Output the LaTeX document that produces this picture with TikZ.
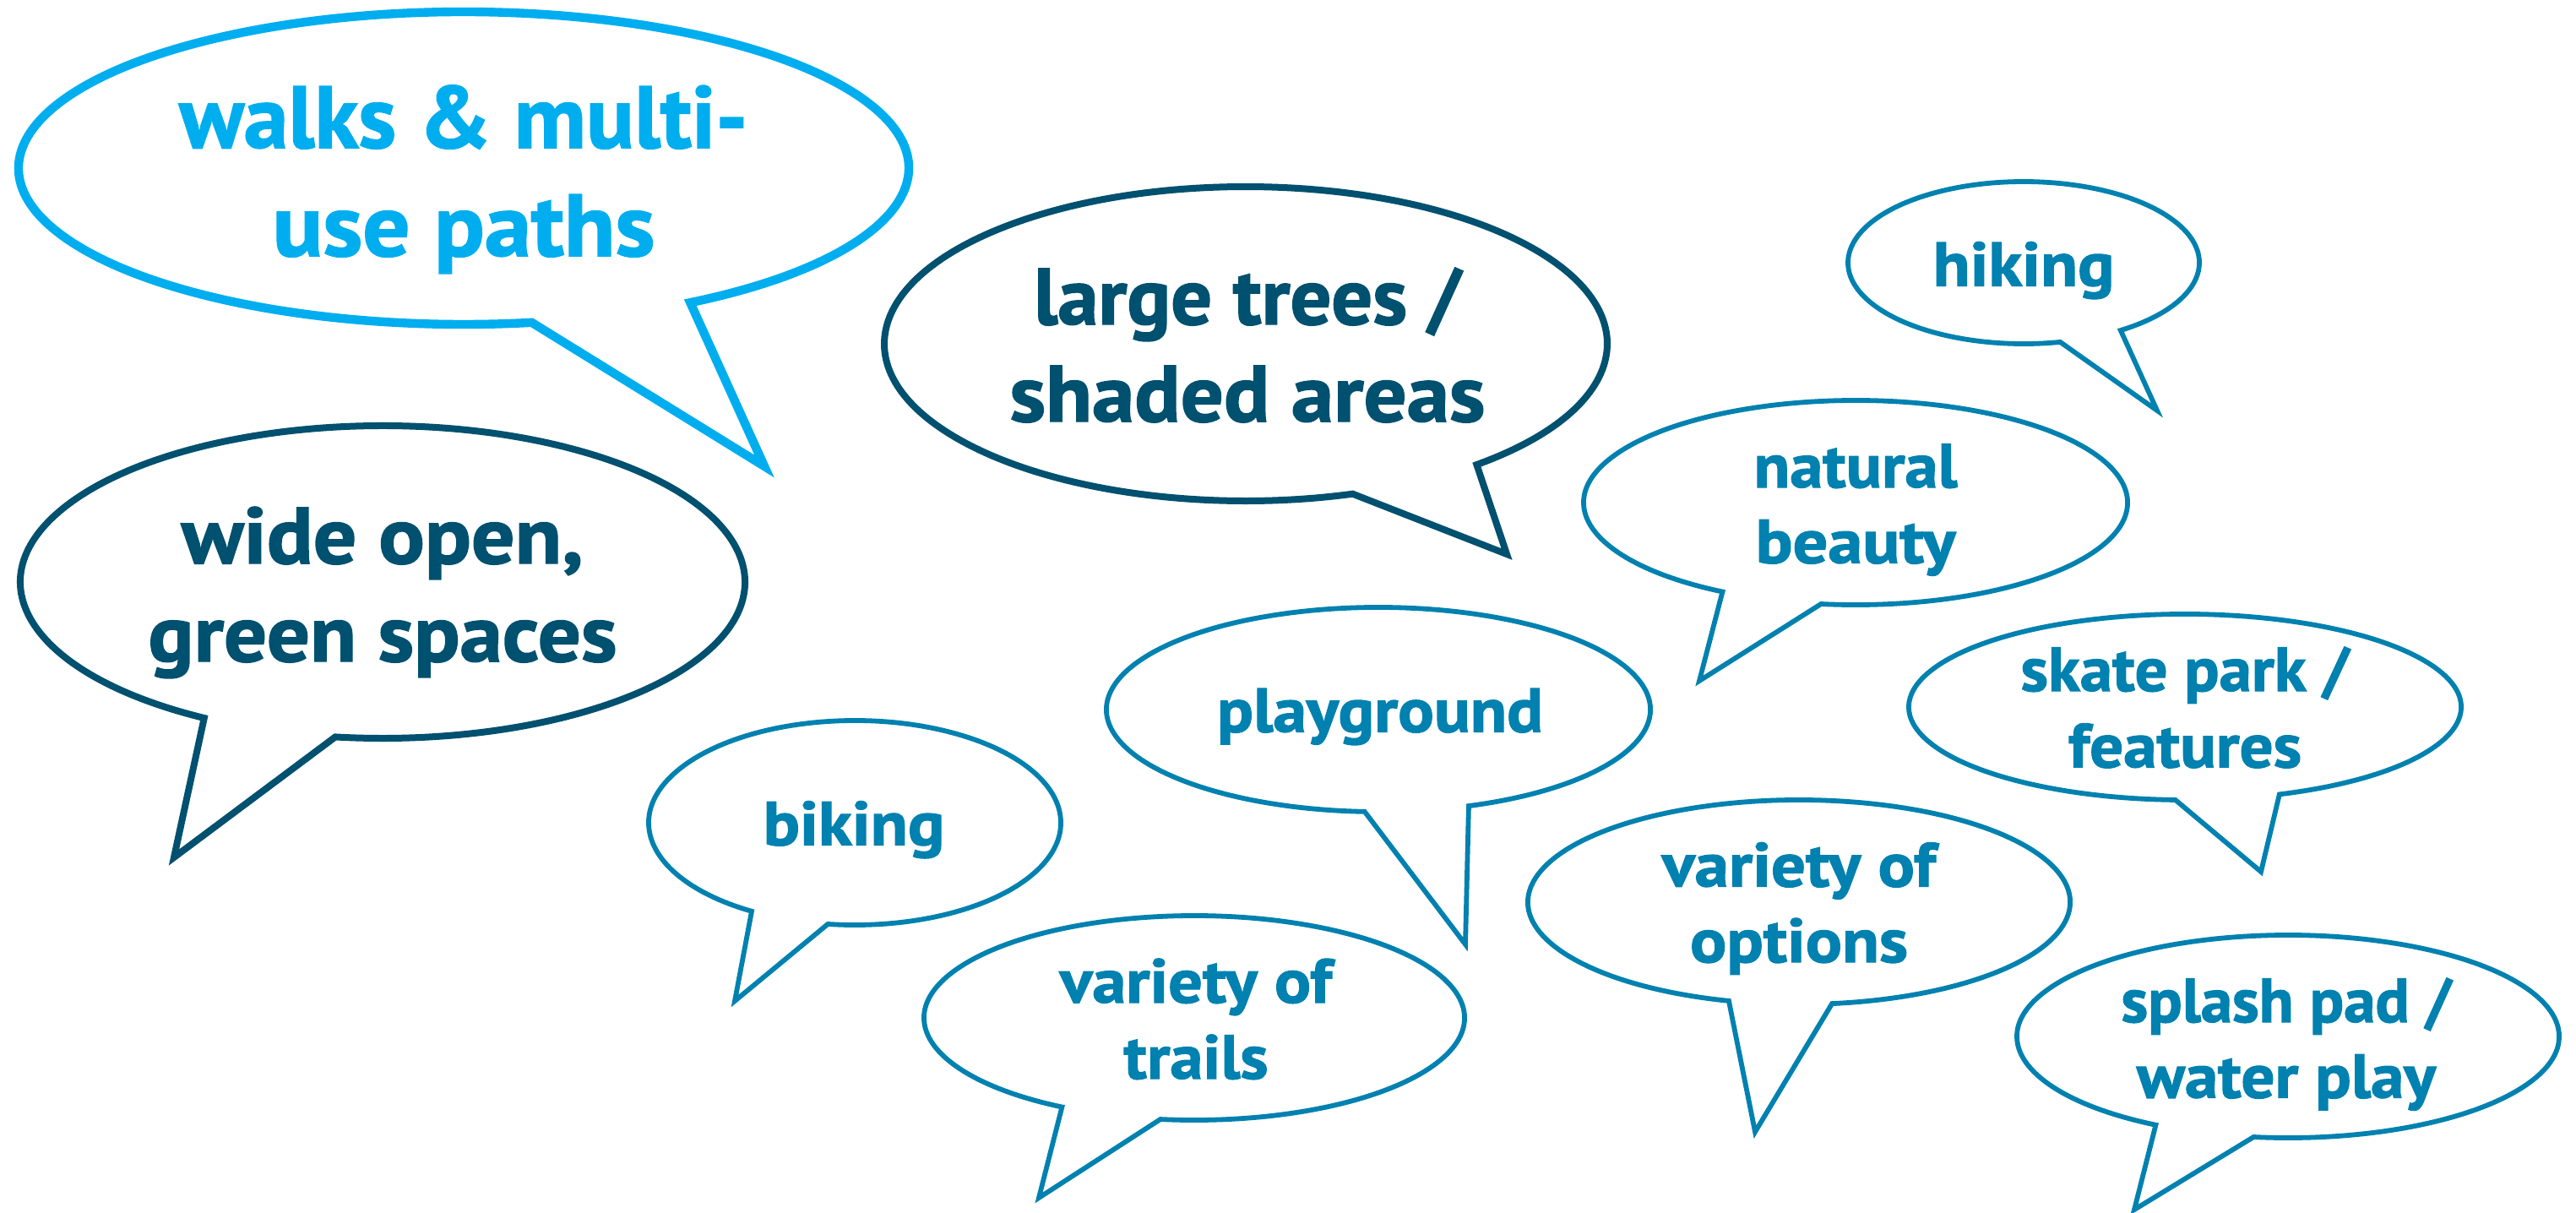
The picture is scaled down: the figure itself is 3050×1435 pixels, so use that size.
\documentclass[tikz,border=0pt]{standalone}
\usepackage{fontspec}
\usepackage{graphicx}
\setmainfont{PT Sans}[BoldFeatures={FakeBold=1.5}]
\definecolor{lightblue}{RGB}{0,174,239}
\definecolor{darkteal}{RGB}{0,80,111}
\definecolor{midblue}{RGB}{0,129,175}
\newcommand{\speechbubble}[7]{%
  \draw[#1] (#7) -- ([shift={(#5:#3 and #4)}]#2) arc[start angle=#5, end angle=#6, x radius=#3, y radius=#4] -- cycle;}
% set a line of text to a given width (in picture pixels, 1px = 0.25pt)
\newcommand{\fitw}[2]{\resizebox{\dimexpr 0.25pt*#1\relax}{\height}{#2}}
\newcommand{\twolines}[4]{\begin{tabular}[t]{@{}c@{}}\fitw{#1}{#2}\\\fitw{#3}{#4}\end{tabular}}
\begin{document}
\begin{tikzpicture}[x=0.25pt,y=-0.25pt,
  bubbase/.style={line join=miter, miter limit=20},
  lb/.style={bubbase, draw=lightblue, line width=2.6pt},
  db/.style={bubbase, draw=darkteal, line width=2pt},
  mb/.style={bubbase, draw=midblue, line width=1.45pt},
  txt/.style={inner sep=0pt, outer sep=0pt, anchor=base, font=\bfseries}]
\useasboundingbox (0,0) rectangle (3050,1435);
% centres and tips
\coordinate (walksC) at (549,199);   \coordinate (walksTip) at (905,552);
\coordinate (wideC) at (453,689);    \coordinate (wideTip) at (206,1015);
\coordinate (treesC) at (1475,407);  \coordinate (treesTip) at (1784,656);
\coordinate (hikeC) at (2396,311);   \coordinate (hikeTip) at (2554,486);
\coordinate (natC) at (2197,595);    \coordinate (natTip) at (2012,806);
\coordinate (bikeC) at (1012,974);   \coordinate (bikeTip) at (870,1185);
\coordinate (playC) at (1632,840);   \coordinate (playTip) at (1735,1118);
\coordinate (trailC) at (1414,1205); \coordinate (trailTip) at (1230,1418);
\coordinate (skateC) at (2587,837);  \coordinate (skateTip) at (2677,1032);
\coordinate (optC) at (2130,1068);   \coordinate (optTip) at (2078,1340);
\coordinate (splashC) at (2709,1227);\coordinate (splashTip) at (2527,1432);
% bubbles
\speechbubble{lb}{walksC}{527}{185}{59.4}{-278.8}{walksTip}
\speechbubble{db}{wideC}{429}{185}{119.5}{457.5}{wideTip}
\speechbubble{db}{treesC}{428}{186}{50.3}{-287.2}{treesTip}
\speechbubble{mb}{hikeC}{208}{96}{56.5}{-282}{hikeTip}
\speechbubble{mb}{natC}{322}{121}{119.3}{457.3}{natTip}
\speechbubble{mb}{bikeC}{244}{121}{120}{457.5}{bikeTip}
\speechbubble{mb}{playC}{322}{121}{70.6}{-267.1}{playTip}
\speechbubble{mb}{trailC}{320}{121}{119.3}{457.2}{trailTip}
\speechbubble{mb}{skateC}{327}{110}{70}{-268}{skateTip}
\speechbubble{mb}{optC}{321}{121}{105}{443}{optTip}
\speechbubble{mb}{splashC}{321}{120}{119.2}{457.3}{splashTip}
% texts
\node[txt, text=lightblue] (walksT) at (549,175) {\fontsize{26}{32}\selectfont\twolines{673}{walks \& multi-}{453}{use paths}};
\node[txt, text=darkteal] (wideT) at (453,667) {\fontsize{23.6}{29}\selectfont\twolines{476}{wide open,}{555}{green spaces}};
\node[txt, text=darkteal] (treesT) at (1477,384) {\fontsize{23.6}{28.75}\selectfont\twolines{506}{large trees /}{563}{shaded areas}};
\node[txt, text=midblue] (hikeT) at (2396,338.5) {\fontsize{18.4}{22.5}\selectfont\fitw{215}{hiking}};
\node[txt, text=midblue] (natT) at (2197,577) {\fontsize{18.4}{22.4}\selectfont\twolines{241}{natural}{237}{beauty}};
\node[txt, text=midblue] (bikeT) at (1011,1000.6) {\fontsize{18.4}{22.5}\selectfont\fitw{215}{biking}};
\node[txt, text=midblue] (playT) at (1634,866.5) {\fontsize{18.4}{22.5}\selectfont\fitw{386}{playground}};
\node[txt, text=midblue] (trailT) at (1416,1187) {\fontsize{18.4}{22.5}\selectfont\twolines{322}{variety of}{171}{trails}};
\node[txt, text=midblue] (skateT) at (2587,818) {\fontsize{18.4}{22.6}\selectfont\twolines{389}{skate park /}{276}{features}};
\node[txt, text=midblue] (optT) at (2130,1049.5) {\fontsize{18.4}{22.4}\selectfont\twolines{324}{variety of}{258}{options}};
\node[txt, text=midblue] (splashT) at (2707,1210) {\fontsize{18.4}{22.4}\selectfont\twolines{391}{splash pad /}{354}{water play}};
\end{tikzpicture}
\end{document}
